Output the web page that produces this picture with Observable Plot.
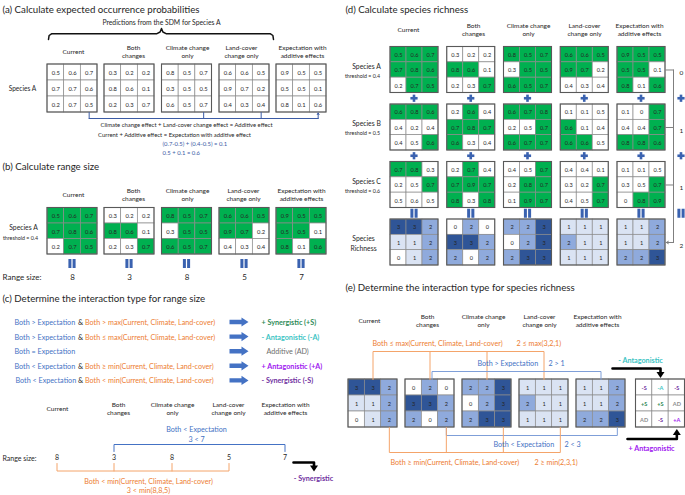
<!DOCTYPE html>
<html><head><meta charset="utf-8">
<script src="https://cdn.jsdelivr.net/npm/d3@7"></script>
<script src="https://cdn.jsdelivr.net/npm/@observablehq/plot@0.6"></script>
<style>html,body{margin:0;padding:0;background:#fff;} svg{display:block;}</style>
</head><body><div id="chart"></div>
<script>
// ---------------- DATA ----------------
const scenarioLabels = ["Current", "Both\nchanges", "Climate change\nonly", "Land-cover\nchange only", "Expectation with\nadditive effects"];
const speciesLabels = ["Species A", "Species B", "Species C"];
const thresholds = [0.4, 0.5, 0.6];

// panel (a) current predictions for species A
const panelA_current = [[0.5,0.6,0.7],[0.7,0.7,0.6],[0.2,0.7,0.5]];
// species A
const spA_current = [[0.5,0.6,0.7],[0.7,0.8,0.6],[0.2,0.7,0.5]];
const spA_both    = [[0.3,0.2,0.2],[0.8,0.6,0.1],[0.2,0.3,0.7]];
const spA_climate = [[0.8,0.5,0.7],[0.3,0.5,0.5],[0.6,0.5,0.7]];
const spA_land    = [[0.6,0.6,0.5],[0.9,0.7,0.2],[0.4,0.3,0.4]];
const spA_expect  = [[0.9,0.5,0.5],[0.5,0.5,0.1],[0.8,0.1,0.6]];
// species B
const spB_current = [[0.6,0.8,0.6],[0.4,0.2,0.4],[0.4,0.5,0.6]];
const spB_both    = [[0.2,0.6,0.4],[0.7,0.8,0.7],[0.6,0.3,0.4]];
const spB_climate = [[0.6,0.7,0.8],[0.2,0.5,0.7],[0.6,0.7,0.7]];
const spB_land    = [[0.1,0.1,0.5],[0.6,0.1,0.4],[0.6,0.6,0.5]];
const spB_expect  = [[0.1,0,0.7],[0.4,0.4,0.7],[0.8,0.8,0.6]];
// species C
const spC_current = [[0.7,0.8,0.3],[0.2,0.5,0.7],[0.5,0.6,0.5]];
const spC_both    = [[0.2,0.7,0.4],[0.7,0.9,0.7],[0.8,0.3,0.8]];
const spC_climate = [[0.4,0.5,0.7],[0.2,0.8,0.7],[0.1,0.9,0.7]];
const spC_land    = [[0.4,0.4,0.1],[0.3,0.2,0.7],[0.4,0.5,0.7]];
const spC_expect  = [[0.1,0.1,0.5],[0.3,0.5,0.7],[0,0.8,0.9]];

// interaction type for each richness cell (panel e)
const interactionTypes = ["-S","-A","-S","+S","+S","AD","AD","-S","+A"];

// rules of panel (c)
const ruleBoth    = ["Both > Expectation","Both > Expectation","Both = Expectation","Both < Expectation","Both < Expectation"];
const ruleExtreme = ["Both > max(Current, Climate, Land-cover)","Both \u2264 max(Current, Climate, Land-cover)","","Both \u2265 min(Current, Climate, Land-cover)","Both < min(Current, Climate, Land-cover)"];
const ruleResult  = ["+ Synergistic (+S)","- Antagonistic (-A)","Additive (AD)","+ Antagonistic (+A)","- Synergistic (-S)"];
const ruleKey     = ["+S","-A","AD","+A","-S"];

// ---------------- STYLE ----------------
const W = 685, H = 495;
const FONT = "Lato, 'Open Sans', sans-serif";
const BLUE = "#4472c4", ORANGE = "#ed7d31", GREEN = "#00b050", INK = "#262626";
const richColors = ["#ffffff", "#dae3f3", "#8faadc", "#2f5597"];
const typeColor = {"+S": "#2e8b57", "-A": "#3cc4c4", "AD": "#8c8c8c", "+A": "#a020f0", "-S": "#7030a0"};
const TITLE = 9.7, RULE = 7.2;

// ---------------- DERIVED ----------------
const spA = [spA_current, spA_both, spA_climate, spA_land, spA_expect];
const spB = [spB_current, spB_both, spB_climate, spB_land, spB_expect];
const spC = [spC_current, spC_both, spC_climate, spC_land, spC_expect];
const allSpecies = [spA, spB, spC];
const panelAgrids = [panelA_current, spA_both, spA_climate, spA_land, spA_expect];
const rangeSize = spA.map(g => d3.sum(g.flat(), v => v > thresholds[0] ? 1 : 0));
const richness = [0,1,2,3,4].map(s => [0,1,2].map(r => [0,1,2].map(c =>
  d3.sum(allSpecies, (sp, k) => sp[s][r][c] > thresholds[k] ? 1 : 0))));
const f1 = v => String(+(+v).toFixed(1));

// ---------------- LAYOUT HELPERS ----------------
const cells = [], frames = [], texts = [], segs = [], solids = [], polys = [], arrows = [];
function txt(x, y, text, o = {}) {
  texts.push({x, y, text, color: o.color || INK, size: o.size || 6.5, anchor: o.anchor || "middle", weight: o.weight || "normal"});
}
function grid(cx, top, width, ch, values, fillOf, fs, colorOf) {
  const cw = width / 3, x0 = cx - width / 2;
  values.forEach((row, r) => row.forEach((v, c) => {
    cells.push({x1: x0 + c * cw, x2: x0 + (c + 1) * cw, y1: top + r * ch, y2: top + (r + 1) * ch, fill: fillOf(v)});
    txt(x0 + (c + 0.5) * cw, top + (r + 0.5) * ch, String(v), {size: fs, color: colorOf ? colorOf(v) : INK, weight: colorOf ? "bold" : "normal"});
  }));
  frames.push({x1: x0, x2: x0 + width, y1: top, y2: top + 3 * ch});
  return {x0, cw, top, ch, cx};
}
function path(pts, color, w) { segs.push({pts, color, w}); }
function plus(cx, cy) {
  solids.push({x1: cx - 3.6, x2: cx + 3.6, y1: cy - 1.3, y2: cy + 1.3, fill: "#3a62b0"});
  solids.push({x1: cx - 1.3, x2: cx + 1.3, y1: cy - 3.6, y2: cy + 3.6, fill: "#3a62b0"});
}
function equals(cx, cy) {
  solids.push({x1: cx - 3.6, x2: cx - 0.6, y1: cy - 4.5, y2: cy + 4.5, fill: "#3a62b0"});
  solids.push({x1: cx + 0.6, x2: cx + 3.6, y1: cy - 4.5, y2: cy + 4.5, fill: "#3a62b0"});
}
function tri(tipX, tipY, dir, len, half, color) {
  const pts = dir === "down" ? [[tipX - half, tipY - len], [tipX + half, tipY - len], [tipX, tipY]]
            : dir === "up" ? [[tipX - half, tipY + len], [tipX + half, tipY + len], [tipX, tipY]]
            : [[tipX - len, tipY - half], [tipX - len, tipY + half], [tipX, tipY]];
  polys.push({pts, color});
}
function blockArrow(x0, x1, y, color) {
  const xh = x1 - 7;
  polys.push({pts: [[x0, y - 2.2], [xh, y - 2.2], [xh, y - 4.6], [x1, y], [xh, y + 4.6], [xh, y + 2.2], [x0, y + 2.2]], color});
}

// ---------------- PANEL (a) ----------------
const AB_CX = [72, 129, 186.5, 244, 301], AB_W = 50;
txt(2, 9, "(a) Calculate expected occurrence probabilities", {anchor: "start", size: TITLE});
txt(161, 22, "Predictions from the SDM for Species A", {size: 6.8});
path([[48,39],[48.6,35],[51,33.3],[156,33.3],[159.6,31.5],[161,28],[162.4,31.5],[166,33.3],[270,33.3],[272.4,35],[273,39]], "#111", 1.5);
[73,133,187,241,302].forEach((x, i) => txt(x, 51, scenarioLabels[i], {size: 6.5}));
const aG = panelAgrids.map((g, i) => grid(AB_CX[i], 64, AB_W, 16, g, () => "#fff", 5.8));
txt(22, 88, "Species A", {size: 6.6});
{ // connector: climate effect + land-cover effect
  const yb = 64 + 48, yl = yb + 6;
  const colX = i => aG[i].x0 + 2.5 * aG[i].cw;
  [0, 2, 3].forEach(i => path([[colX(i), yb], [colX(i), yl]], "#3b5ba5", 1));
  path([[colX(0), yl], [colX(4), yl]], "#3b5ba5", 1);
  arrows.push({x1: colX(4), y1: yl, x2: colX(4), y2: yb + 0.5, color: "#3b5ba5"});
}
txt(186, 124, "Climate change effect + Land-cover change effect = Additive effect", {size: 5.9});
txt(174, 134, "Current + Additive effect = Expectation with additive effect", {size: 5.9});
{
  const cur = panelA_current[2][2], cl = spA_climate[2][2], la = spA_land[2][2];
  const add = (cl - cur) + (la - cur);
  txt(162, 143.5, `(${f1(cl)}-${f1(cur)}) + (${f1(la)}-${f1(cur)}) = ${f1(add)}`, {anchor: "start", size: 5.9, color: "#3b5ba5"});
  txt(162, 152, `${f1(cur)} + ${f1(add)} = ${f1(cur + add)}`, {anchor: "start", size: 5.9, color: "#3b5ba5"});
}

// ---------------- PANEL (b) ----------------
txt(2, 166, "(b) Calculate range size", {anchor: "start", size: TITLE});
[73,133,187,243,301].forEach((x, i) => txt(x, 194, scenarioLabels[i], {size: 6.5}));
spA.forEach((g, i) => {
  grid(AB_CX[i], 207.5, AB_W, 15.5, g, v => v > thresholds[0] ? GREEN : "#fff", 5.8);
  equals(AB_CX[i], 263.5);
  txt(AB_CX[i], 276.5, String(rangeSize[i]), {size: 8});
});
txt(23, 227, "Species A", {size: 6.8});
txt(20, 237, "threshold = " + thresholds[0], {size: 5.3});
txt(2, 276.5, "Range size:", {anchor: "start", size: 8});

// ---------------- PANEL (c) ----------------
txt(2, 298, "(c) Determine the interaction type for range size", {anchor: "start", size: TITLE});
ruleBoth.forEach((t, i) => {
  const y = 321.5 + i * 14.6;
  txt(i === 4 ? 15 : 14, y, t, {anchor: "start", size: RULE, color: BLUE});
  if (ruleExtreme[i]) {
    txt(77.5, y, "&", {anchor: "start", size: RULE, color: INK});
    txt(84.5, y, ruleExtreme[i], {anchor: "start", size: RULE, color: ORANGE});
  }
  blockArrow(229, 248, y, "#4472c4");
  txt(ruleKey[i] === "AD" ? 266 : 261, y, ruleResult[i], {anchor: "start", size: RULE, color: ruleKey[i] === "AD" ? "#6e6e6e" : typeColor[ruleKey[i]], weight: ruleKey[i] === "AD" ? "normal" : "bold"});
});
{
  const CX = [56.5, 113.5, 171.5, 228.5, 284.5];
  [57,118,172,228,285].forEach((x, i) => txt(x, 408, scenarioLabels[i], {size: 6.5}));
  txt(2, 457.5, "Range size:", {anchor: "start", size: 7});
  CX.forEach((x, i) => txt(x, 457, String(rangeSize[i]), {size: 7}));
  const [cu, bo, cl, la, ex] = rangeSize;
  txt(196, 429, "Both < Expectation", {size: RULE, color: BLUE});
  txt(196, 438.5, `${bo} < ${ex}`, {size: RULE, color: BLUE});
  path([[CX[1], 451], [CX[1], 444], [CX[4], 444], [CX[4], 451]], BLUE, 1);
  path([[CX[0], 463], [CX[0], 470.5], [CX[3], 470.5], [CX[3], 463]], "#f4a46a", 1);
  [1, 2].forEach(i => path([[CX[i], 463], [CX[i], 470.5]], "#f4a46a", 1));
  txt(148, 480.5, "Both < min(Current, Climate, Land-cover)", {size: RULE, color: ORANGE});
  txt(148, 489.5, `${bo} < min(${cu},${cl},${la})`, {size: RULE, color: ORANGE});
  path([[293, 462], [313.5, 462], [313.5, 465.5]], "#000", 2.6);
  tri(313.5, 471, "down", 6, 4, "#000");
  txt(313, 478, "- Synergistic", {size: RULE, color: "#7030a0", weight: "bold"});
}

// ---------------- PANEL (d) ----------------
const D_CX = [414, 470.75, 527.5, 584.25, 641], D_W = 48, D_CH = 15.33, D_TOPS = [46.5, 104, 161.5, 219];
txt(345, 9, "(d) Calculate species richness", {anchor: "start", size: TITLE});
[408,473,528,584,639].forEach((x, i) => txt(x, 29, scenarioLabels[i], {size: 6.5}));
allSpecies.forEach((sp, k) => {
  sp.forEach((g, i) => {
    grid(D_CX[i], D_TOPS[k], D_W, D_CH, g, v => v > thresholds[k] ? GREEN : "#fff", 5.6);
    const gapMid = D_TOPS[k] + 3 * D_CH + (D_TOPS[k + 1] - D_TOPS[k] - 3 * D_CH) / 2;
    if (k < 2) plus(D_CX[i], gapMid); else equals(D_CX[i], gapMid);
  });
  const rowMid = D_TOPS[k] + 1.5 * D_CH;
  txt(366, rowMid - 4, speciesLabels[k], {size: 6.8});
  txt(362, rowMid + 5.5, "threshold = " + thresholds[k], {size: 5.3});
});
richness.forEach((g, i) => grid(D_CX[i], D_TOPS[3], D_W, D_CH, g, v => richColors[v], 5.6));
txt(363, D_TOPS[3] + 1.5 * D_CH - 4, "Species", {size: 6.8});
txt(363, D_TOPS[3] + 1.5 * D_CH + 6, "Richness", {size: 6.8});
{ // bracket on right: summing the presences of the middle-right cell of the expectation
  const xr = D_CX[4] + D_W / 2, xv = xr + 8;
  const ys = D_TOPS.map(t => t + 1.5 * D_CH);
  [0, 1, 2].forEach(k => {
    path([[xr, ys[k]], [xv, ys[k]]], "#7f7f7f", 1);
    txt(681, ys[k] + 2.5, String(allSpecies[k][4][1][2] > thresholds[k] ? 1 : 0), {size: 6.5});
  });
  path([[xv, ys[0]], [xv, ys[3]]], "#7f7f7f", 1);
  arrows.push({x1: xv, y1: ys[3], x2: xr + 0.8, y2: ys[3], color: "#7f7f7f"});
  txt(681, ys[3] + 2.5, String(richness[4][1][2]), {size: 6.5});
  plus(681, (D_TOPS[0] + 3 * D_CH + D_TOPS[1]) / 2);
  plus(681, (D_TOPS[1] + 3 * D_CH + D_TOPS[2]) / 2);
  equals(681, (D_TOPS[2] + 3 * D_CH + D_TOPS[3]) / 2);
}

// ---------------- PANEL (e) ----------------
const E_CX = [372.5, 429.5, 486.5, 543.5, 600.5], E_RES = 660, E_W = 49, E_TOP = 379, E_CH = 16;
txt(345, 287, "(e) Determine the interaction type for species richness", {anchor: "start", size: TITLE});
["Current", scenarioLabels[1], scenarioLabels[2], scenarioLabels[3], scenarioLabels[4]].forEach((t, i) =>
  txt([369,427,483,539,597][i], 319.5, t, {size: 6.5}));
{
  const cw = E_W / 3;
  const colX = (i, c) => E_CX[i] - E_W / 2 + (c + 0.5) * cw;
  const bot = E_TOP + 3 * E_CH;
  // top comparisons (cell row 0, col 1)
  const [cu, bo, cl, la, ex] = richness.map(g => g[0][1]);
  path([[colX(0,1), E_TOP], [colX(0,1), 351], [colX(3,1), 351], [colX(3,1), E_TOP]], "#f4a46a", 1);
  [1, 2].forEach(i => path([[colX(i,1), 351], [colX(i,1), E_TOP]], "#f4a46a", 1));
  path([[colX(1,1) + 2, E_TOP], [colX(1,1) + 2, 371], [colX(4,1), 371], [colX(4,1), E_TOP]], "#7f9fd8", 1);
  txt(372, 343, "Both \u2264 max(Current, Climate, Land-cover)", {anchor: "start", size: RULE, color: ORANGE});
  txt(516, 343, `${bo} \u2264 max(${cu},${cl},${la})`, {anchor: "start", size: RULE, color: ORANGE});
  txt(477, 363, "Both > Expectation", {anchor: "start", size: RULE, color: BLUE});
  txt(548, 363, `${bo} > ${ex}`, {anchor: "start", size: RULE, color: BLUE});
  // bottom comparisons (cell row 2, col 2)
  const [cu2, bo2, cl2, la2, ex2] = richness.map(g => g[2][2]);
  path([[colX(1,2), bot], [colX(1,2), 435], [colX(4,2), 435], [colX(4,2), bot]], "#7f9fd8", 1);
  path([[colX(0,2), bot], [colX(0,2), 452], [colX(3,2), 452], [colX(3,2), bot]], "#f4a46a", 1);
  [1, 2].forEach(i => path([[colX(i,2), bot], [colX(i,2), 452]], "#f4a46a", 1));
  txt(493, 443.5, "Both < Expectation", {anchor: "start", size: RULE, color: BLUE});
  txt(564, 443.5, `${bo2} < ${ex2}`, {anchor: "start", size: RULE, color: BLUE});
  txt(390, 462, "Both \u2265 min(Current, Climate, Land-cover)", {anchor: "start", size: RULE, color: ORANGE});
  txt(534, 462, `${bo2} \u2265 min(${cu2},${cl2},${la2})`, {anchor: "start", size: RULE, color: ORANGE});
}
richness.forEach((g, i) => grid(E_CX[i], E_TOP, E_W, E_CH, g, v => richColors[v], 5.6));
{
  const resRows = [0, 1, 2].map(r => interactionTypes.slice(r * 3, r * 3 + 3));
  grid(E_RES, E_TOP, E_W, E_CH, resRows, () => "#fff", 5.6, v => typeColor[v]);
  const cw = E_W / 3;
  const c1 = E_RES, c2 = E_RES + cw;
  path([[612, 368], [c1, 368], [c1, 372]], "#000", 2.6);
  tri(c1, 377.5, "down", 6, 4, "#000");
  txt(640, 360, "- Antagonistic", {size: RULE, color: "#3cc4c4", weight: "bold"});
  path([[627, 438.5], [c2, 438.5], [c2, 434.5]], "#000", 2.6);
  tri(c2, 428.5, "up", 6, 4, "#000");
  txt(651, 447.5, "+ Antagonistic", {size: RULE, color: "#a020f0", weight: "bold"});
}

// ---------------- MARKS ----------------
const textGroups = d3.groups(texts, d => d.anchor + "|" + d.weight);
const marks = [
  Plot.rect(cells, {x1: "x1", x2: "x2", y1: "y1", y2: "y2", fill: "fill", stroke: "#8c8c8c", strokeWidth: 0.7}),
  Plot.rect(frames, {x1: "x1", x2: "x2", y1: "y1", y2: "y2", fill: "none", stroke: "#595959", strokeWidth: 1.1}),
  Plot.rect(solids, {x1: "x1", x2: "x2", y1: "y1", y2: "y2", fill: "fill"}),
  ...segs.map(s => Plot.line(s.pts, {x: d => d[0], y: d => d[1], stroke: s.color, strokeWidth: s.w, strokeLinejoin: "round"})),
  ...polys.map(p => Plot.line(p.pts, {x: d => d[0], y: d => d[1], fill: p.color, stroke: "none", curve: "linear-closed"})),
  Plot.arrow(arrows, {x1: "x1", y1: "y1", x2: "x2", y2: "y2", stroke: "color", strokeWidth: 1, headLength: 5}),
  ...textGroups.map(([key, g]) => {
    const [anchor, weight] = key.split("|");
    return Plot.text(g, {x: "x", y: "y", text: "text", fill: "color", fontSize: d => d.size,
      textAnchor: anchor, fontWeight: weight, lineHeight: 1.28, fontFamily: FONT});
  })
];

const chart = Plot.plot({
  width: W, height: H, margin: 0,
  x: {type: "linear", domain: [0, W], range: [0, W], axis: null},
  y: {type: "linear", domain: [0, H], range: [0, H], axis: null},
  color: {type: "identity"},
  style: {background: "#fff", fontFamily: FONT},
  marks
});
document.getElementById("chart").appendChild(chart);
</script>
</body></html>
